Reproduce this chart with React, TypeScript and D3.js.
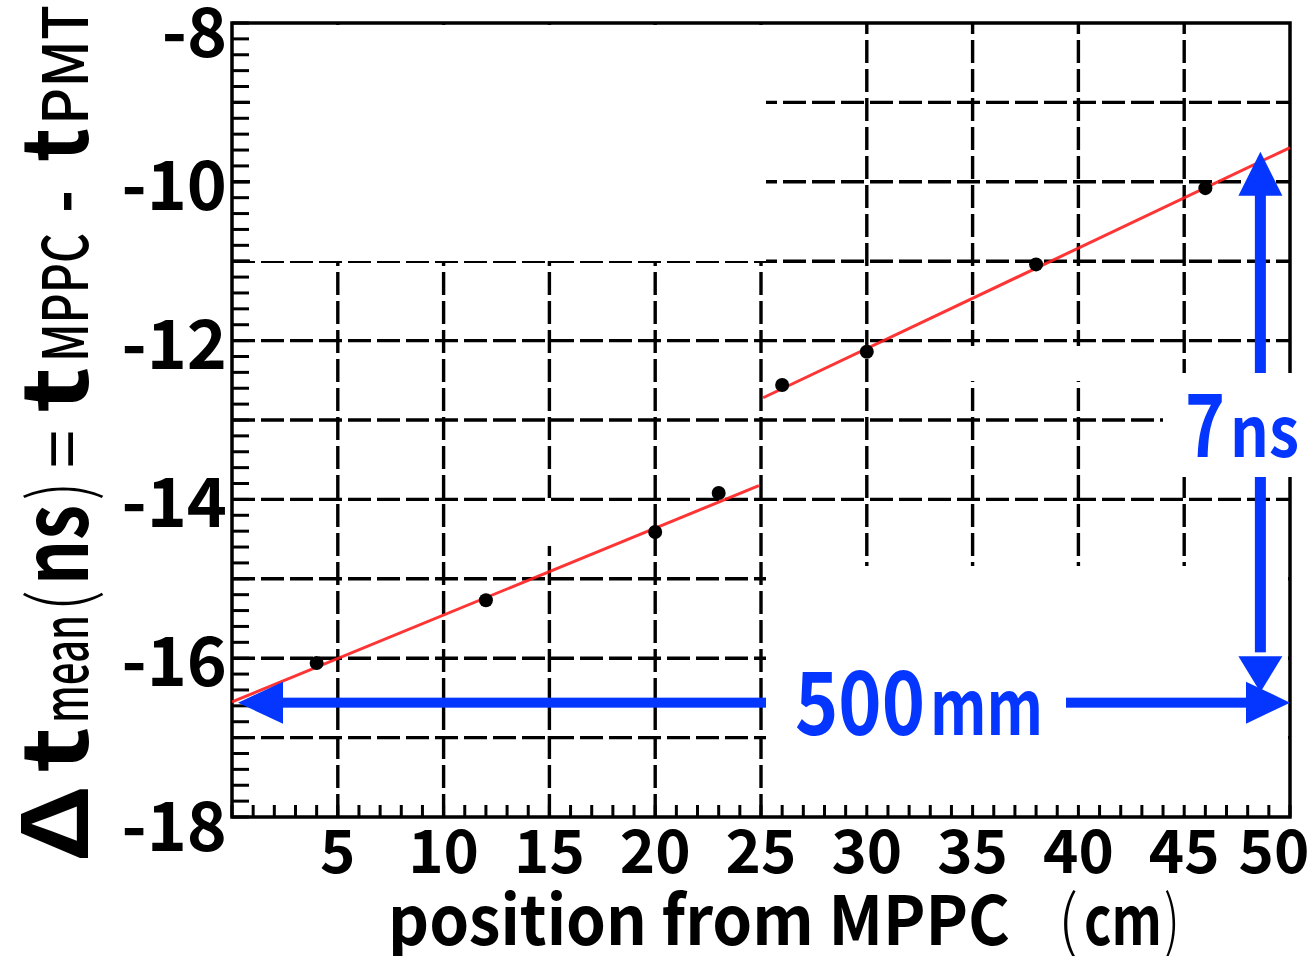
import * as d3 from 'd3';
import React from 'react';

// measured points: position from MPPC (cm) vs mean time difference (ns)
const positionCm = [4, 12, 20, 23, 26, 30, 38, 46];
const dtMeanNs = [-16.06, -15.27, -14.41, -13.92, -12.56, -12.14, -11.04, -10.08];

// linear fit, drawn in two pieces (left / right half of the bar)
const fitFrom = [0, 25.1];
const fitTo = [24.9, 50];
const fitIntercept = [-16.55, -15.895];
const fitSlope = [0.1094, 0.1265];

const xTickLabels = [5, 10, 15, 20, 25, 30, 35, 40, 45, 50];
const yTickLabels = [-8, -10, -12, -14, -16, -18];
const xGridValues = [5, 10, 15, 20, 25, 30, 35, 40, 45];
const yGridValues = [-9, -10, -11, -12, -13, -14, -15, -16, -17];

// annotation arrows
const spanCm = [0, 50]; // 500mm
const spanNs = [-16.43, -9.62]; // 7ns
const arrowLevelNs = -16.56;
const arrowPosCm = 48.6;

const W = 1316;
const H = 956;
const FONT = "'Noto Sans CJK JP', 'Noto Sans', sans-serif";
const BLUE = '#0536ff';

const x = d3.scaleLinear().domain([0, 50]).range([232, 1290]);
const y = d3.scaleLinear().domain([-18, -8]).range([817, 23]);

// y-label pieces along the rotated axis: [text, start, end, size, weight]
const yLabelParts: [string, number, number, number, number][] = [
  ['Δ', 0, 77, 90, 700],
  ['t', 89, 135, 90, 700],
  ['mean', 139, 247, 62, 500],
  ['(', 250, 272, 80, 300],
  ['ns', 277, 357, 90, 700],
  [')', 362, 380, 80, 300],
  ['=', 394, 432, 70, 400],
  ['t', 449, 495, 90, 700],
  ['MPPC', 500, 629, 62, 500],
  ['-', 649, 672, 70, 700],
  ['t', 700, 734, 90, 700],
  ['PMT', 737, 857, 62, 500],
];

export default function App() {
  const yMinor = d3.range(-18, -7.99, 0.2);
  const xMinor = d3.range(0, 50.01, 1);

  const ax = x(arrowPosCm);
  const upTip = y(spanNs[1]);
  const downTip = y(spanNs[0]);
  const ay = y(arrowLevelNs);
  const leftTip = x(spanCm[0]) + 6;
  const rightTip = x(spanCm[1]);

  return (
    <div style={{ position: 'absolute', left: 0, top: 0 }}>
      <svg width={W} height={H} style={{ display: 'block', background: '#fff' }} fontFamily={FONT}>
        {/* grid */}
        <g stroke="#000" strokeWidth={3.4} strokeDasharray="23,6">
          {xGridValues.map((v) => (
            <line key={'gx' + v} x1={x(v)} x2={x(v)} y1={y(-18)} y2={y(-8)} />
          ))}
          {yGridValues.map((v) => (
            <line key={'gy' + v} x1={x(0)} x2={x(50)} y1={y(v)} y2={y(v)} />
          ))}
        </g>

        {/* pasted-over white areas of the original figure */}
        <g fill="#fff">
          <rect x={250} y={25} width={516} height={236} />
          <rect x={766} y={566} width={522} height={249} />
          <rect x={880} y={346} width={283} height={35} />
          <rect x={540} y={501} width={18} height={45} />
        </g>

        {/* frame and ticks */}
        <rect x={x(0)} y={y(-8)} width={x(50) - x(0)} height={y(-18) - y(-8)} fill="none" stroke="#000" strokeWidth={3.5} />
        <g stroke="#000" strokeWidth={3}>
          {yMinor.map((v, i) => (
            <line key={'ty' + i} x1={x(0)} x2={x(0) + 17} y1={y(v)} y2={y(v)} />
          ))}
          {xMinor.map((v, i) => (
            <line key={'tx' + i} x1={x(v)} x2={x(v)} y1={y(-18)} y2={y(-18) - 12} />
          ))}
        </g>

        {/* fit */}
        <g stroke="#ff1f1f" strokeWidth={3} fill="none" opacity={0.9}>
          {fitFrom.map((f, i) => (
            <line
              key={'fit' + i}
              x1={x(f)}
              y1={y(fitIntercept[i] + fitSlope[i] * f)}
              x2={x(fitTo[i])}
              y2={y(fitIntercept[i] + fitSlope[i] * fitTo[i])}
            />
          ))}
        </g>

        {/* points */}
        <g fill="#000">
          {positionCm.map((p, i) => (
            <circle key={'pt' + i} cx={x(p)} cy={y(dtMeanNs[i])} r={7} />
          ))}
        </g>

        {/* arrows */}
        <g fill={BLUE} stroke="none">
          <rect x={ax - 5.5} y={upTip + 40} width={11} height={downTip - upTip - 80} />
          <polygon points={`${ax},${upTip} ${ax - 22},${upTip + 44} ${ax + 22},${upTip + 44}`} />
          <polygon points={`${ax},${downTip} ${ax - 22},${downTip - 36} ${ax + 22},${downTip - 36}`} />
          <rect x={leftTip + 40} y={ay - 5} width={rightTip - leftTip - 80} height={10} />
          <polygon points={`${leftTip},${ay} ${leftTip + 45},${ay - 21} ${leftTip + 45},${ay + 21}`} />
          <polygon points={`${rightTip},${ay} ${rightTip - 44},${ay - 21} ${rightTip - 44},${ay + 21}`} />
        </g>

        {/* annotation labels (their white background also hides the frame) */}
        <rect x={1163} y={373} width={153} height={104} fill="#fff" />
        <rect x={766} y={650} width={300} height={100} fill="#fff" />
        <g fill={BLUE} fontWeight={700}>
          <text x={1185} y={457} fontSize={88} textLength={40} lengthAdjust="spacingAndGlyphs">7</text>
          <text x={1230} y={457} fontSize={70} textLength={69} lengthAdjust="spacingAndGlyphs">ns</text>
          <text x={795} y={735} fontSize={88} textLength={130} lengthAdjust="spacingAndGlyphs">500</text>
          <text x={930} y={735} fontSize={76} textLength={113} lengthAdjust="spacingAndGlyphs">mm</text>
        </g>

        {/* tick labels */}
        <g fill="#000" fontWeight={700}>
          {yTickLabels.map((v) => (
            <text key={'ly' + v} x={227} y={y(v) + (v === -8 || v === -18 ? 34 : 28)} fontSize={68} textAnchor="end">
              {v}
            </text>
          ))}
          {xTickLabels.map((v) => (
            <text key={'lx' + v} x={Math.min(x(v), 1274)} y={873} fontSize={60} textAnchor="middle">
              {v}
            </text>
          ))}
        </g>

        {/* axis titles */}
        <g fill="#000">
          <text x={388} y={945} fontSize={68} fontWeight={700} textLength={622} lengthAdjust="spacingAndGlyphs">
            position from MPPC
          </text>
          <text x={1058} y={945} fontSize={68} fontWeight={300} textLength={20} lengthAdjust="spacingAndGlyphs">(</text>
          <text x={1084} y={945} fontSize={68} fontWeight={700} textLength={78} lengthAdjust="spacingAndGlyphs">cm</text>
          <text x={1164} y={945} fontSize={68} fontWeight={300} textLength={16} lengthAdjust="spacingAndGlyphs">)</text>
        </g>
        <g transform="translate(88,862) rotate(-90)" fill="#000">
          {yLabelParts.map(([t, s, e, size, w], i) => (
            <text key={'yl' + i} x={s} y={0} fontSize={size} fontWeight={w} textLength={e - s} lengthAdjust="spacingAndGlyphs">
              {t}
            </text>
          ))}
        </g>
      </svg>
    </div>
  );
}
